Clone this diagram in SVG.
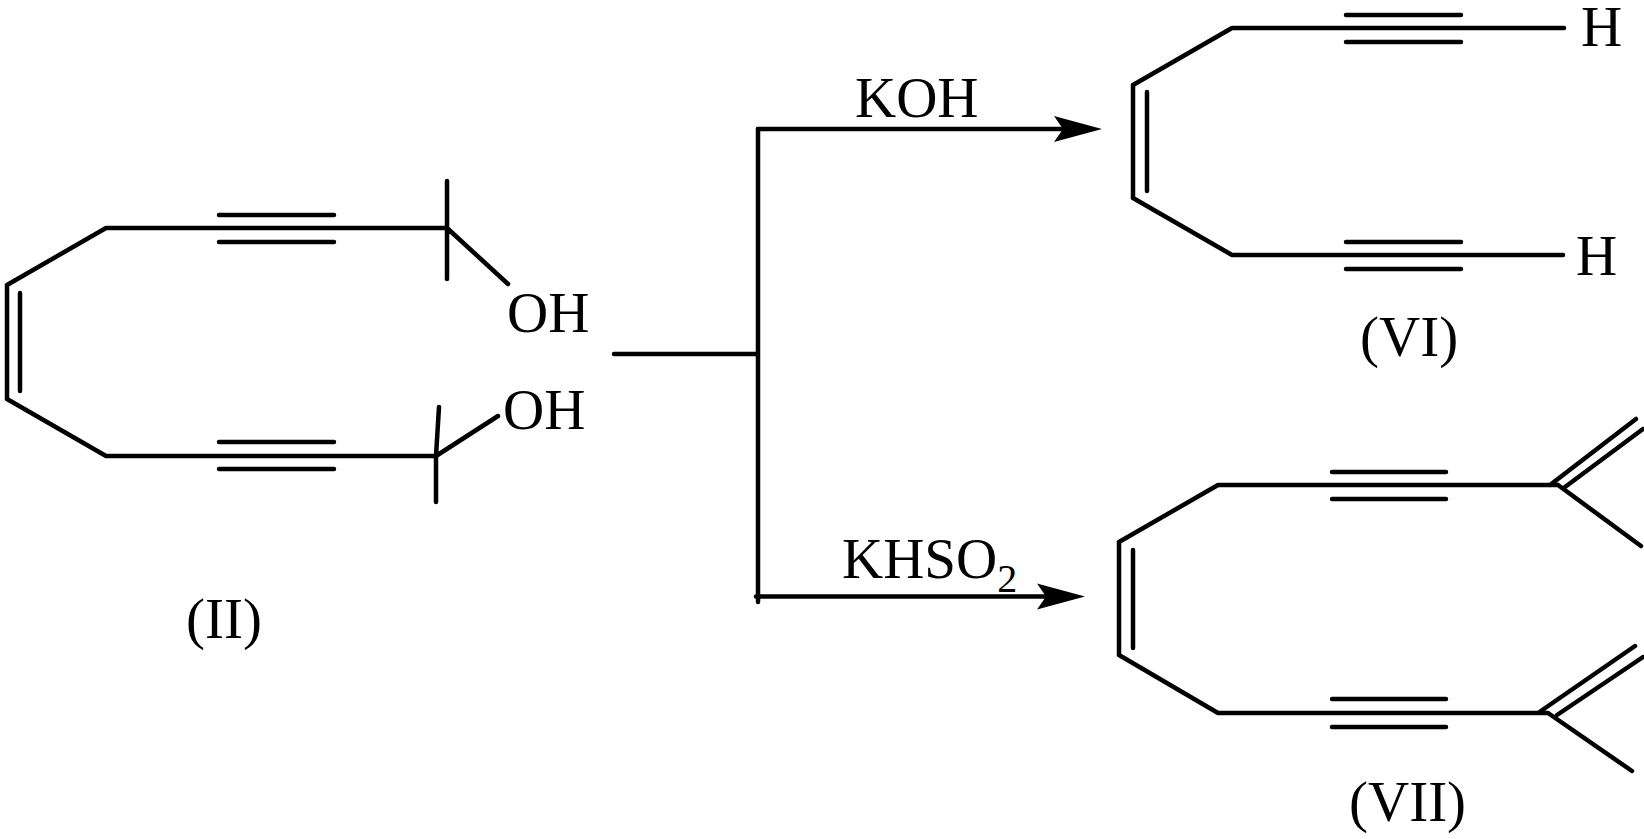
<svg xmlns="http://www.w3.org/2000/svg" width="1644" height="839" viewBox="0 0 1644 839">
<style>
.b{fill:none;stroke:#000;stroke-width:4.5;stroke-linecap:round;stroke-linejoin:round}
text{font-family:"Liberation Serif","Times New Roman",serif;fill:#000;font-size:57px}
</style>
<defs><marker id="a" markerUnits="userSpaceOnUse" markerWidth="50" markerHeight="28" refX="9" refY="14" orient="auto"><path d="M0 1L48 14L0 27L9 14Z" fill="#000"/></marker></defs>
<rect width="1644" height="839" fill="#fff"/>
<g id="II" class="b">
<path d="M106 228H447M219 215H334M219 242H334M7 285L106 228M7 285V399M20 293V391M7 399L106 456M106 456H436M219 442H334M219 469H334M447 181V279M447 228L508 284M436 456L439 407M436 456V502M436 456L498 416"/>
</g>
<g id="VI" class="b">
<path d="M1232 28H1564M1346 15H1461M1346 42H1461M1133 85L1232 28M1133 85V198M1147 92V191M1133 198L1232 255M1232 255H1563M1346 242H1461M1346 269H1461"/>
</g>
<g id="VII" class="b">
<path d="M1218 485H1558M1332 472H1446M1332 499H1446M1119 542L1218 485M1119 542V655M1133 550V648M1119 655L1218 713M1218 713H1548M1332 699H1446M1332 727H1446M1550 485L1636 419M1565 487L1643 429M1558 485L1641 546M1538 713L1635 646M1557 715L1643 657M1548 713L1632 771"/>
</g>
<g id="connectors">
<path class="b" d="M614 354H758M758 129V602"/>
<path class="b" d="M758 129H1063" marker-end="url(#a)"/>
<path class="b" d="M756 596.5H1046" marker-end="url(#a)"/>
</g>
<g id="labels">
<text x="507" y="332">OH</text>
<text x="503" y="429">OH</text>
<text x="186" y="638">(II)</text>
<text x="855" y="117">KOH</text>
<text x="842" y="578">KHSO<tspan font-size="40" dy="14">2</tspan></text>
<text x="1581" y="46">H</text>
<text x="1576" y="275">H</text>
<text x="1360" y="356">(VI)</text>
<text x="1349" y="821">(VII)</text>
</g>
</svg>
